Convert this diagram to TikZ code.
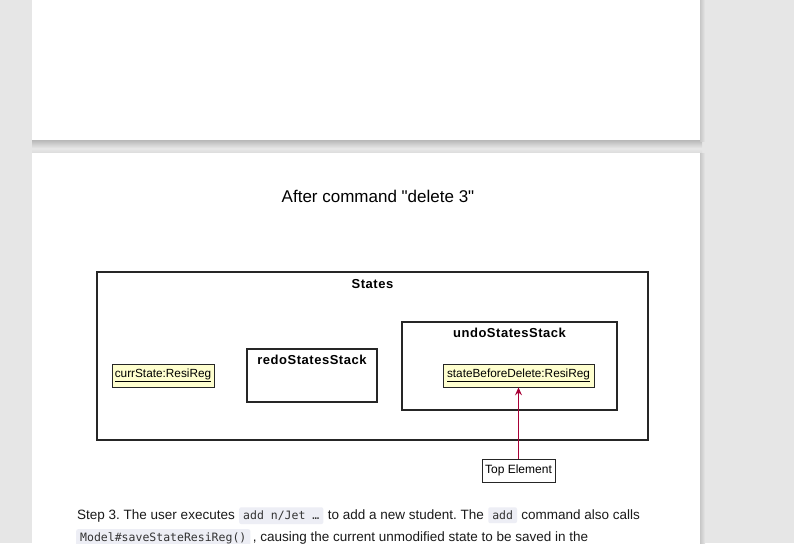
\documentclass[tikz,border=0pt]{standalone}
\usepackage{fontspec}
\setmainfont{Liberation Sans}
\newfontfamily\titlefont{Liberation Sans}[Ligatures=TeXOff]
\newfontfamily\framefont{Liberation Sans}[LetterSpace=4]
\newfontfamily\codefont{DejaVu Sans Mono}
\usetikzlibrary{arrows.meta}
\frenchspacing
\definecolor{bgc}{HTML}{E6E6E6}
\definecolor{umlyellow}{HTML}{FEFECE}
\definecolor{umlred}{HTML}{A80036}
\definecolor{umlborder}{HTML}{262626}
\definecolor{codebg}{HTML}{EDEEF5}
\definecolor{bodytext}{HTML}{1A1A1A}
\tikzset{
  frame/.style={draw=umlborder, line width=1.4pt, fill=white, inner sep=0pt},
  obj/.style={draw=umlborder, line width=0.8pt, fill=umlyellow, inner sep=0pt, minimum height=23pt, font=\fontsize{11.8}{13}\selectfont},
  note/.style={draw=umlborder, line width=0.8pt, fill=white, inner sep=0pt, minimum height=23pt, font=\fontsize{12}{13}\selectfont},
  frametitle/.style={font=\framefont\fontsize{13}{14}\selectfont\bfseries, inner sep=0pt},
  body/.style={font=\fontsize{13.5}{16}\selectfont, text=bodytext, inner sep=0pt, anchor=base west},
  code/.style={font=\codefont\fontsize{11.5}{14}\selectfont, text=black!80, fill=codebg, rounded corners=2pt, inner xsep=4pt, inner ysep=3.5pt, anchor=base west},
  toparrow/.style={draw=umlred, line width=0.9pt, -{Stealth[length=8pt,width=7pt,inset=3pt]}}
}
\begin{document}
\begin{tikzpicture}[x=1pt,y=-1pt]
\useasboundingbox (0,0) rectangle (794,543);
\fill[bgc] (0,0) rectangle (794,543);
% shadows
\shade[top color=black!28, bottom color=bgc] (32,140) rectangle (702,148);
\shade[left color=black!22, right color=bgc] (700,0) rectangle (705,141);
\shade[bottom color=black!14, top color=bgc] (32,149) rectangle (702,153);
\shade[left color=black!22, right color=bgc] (700,153) rectangle (705,543);
% pages
\fill[white] (32,0) rectangle (700,140);
\fill[white] (32,153) rectangle (700,543);
% title
\node[font=\titlefont\fontsize{17}{20}\selectfont, inner sep=0pt] (title) at (378,196) {After command "delete 3"};
% frames
\node[frame, minimum width=551pt, minimum height=168pt] (states) at (372.5,356) {};
\node[frametitle] (statesT) at (372.5,284) {States};
\node[frame, minimum width=130pt, minimum height=53pt] (redo) at (312,375.5) {};
\node[frametitle] (redoT) at (312,360) {redoStatesStack};
\node[frame, minimum width=215pt, minimum height=88pt] (undo) at (509.5,366) {};
\node[frametitle] (undoT) at (509.5,333) {undoStatesStack};
% objects
\node[obj, minimum width=102pt] (curr) at (163,375.5) {\raisebox{-1.5pt}{\underline{currState:ResiReg}}};
\node[obj, minimum width=151pt] (before) at (518.5,375.5) {\raisebox{-1.5pt}{\underline{stateBeforeDelete:ResiReg}}};
\node[note, minimum width=73pt] (top) at (518.5,470.5) {\raisebox{-1pt}{Top Element}};
\draw[toparrow] (top.north) -- (before.south);
% body text
\node[body] (s1) at (77,519.5) {Step 3. The user executes};
\node[code] (c1) at ([xshift=4pt]s1.base east) {add n/Jet …};
\node[body] (s2) at ([xshift=4pt]c1.base east) {to add a new student. The};
\node[code] (c2) at ([xshift=4pt]s2.base east) {add};
\node[body] (s3) at ([xshift=4pt]c2.base east) {command also calls};
\node[code] (c3) at (76,541.5) {Model\#saveStateResiReg()};
\node[body] (s4) at ([xshift=2pt]c3.base east) {, causing the current unmodified state to be saved in the};
\end{tikzpicture}
\end{document}
